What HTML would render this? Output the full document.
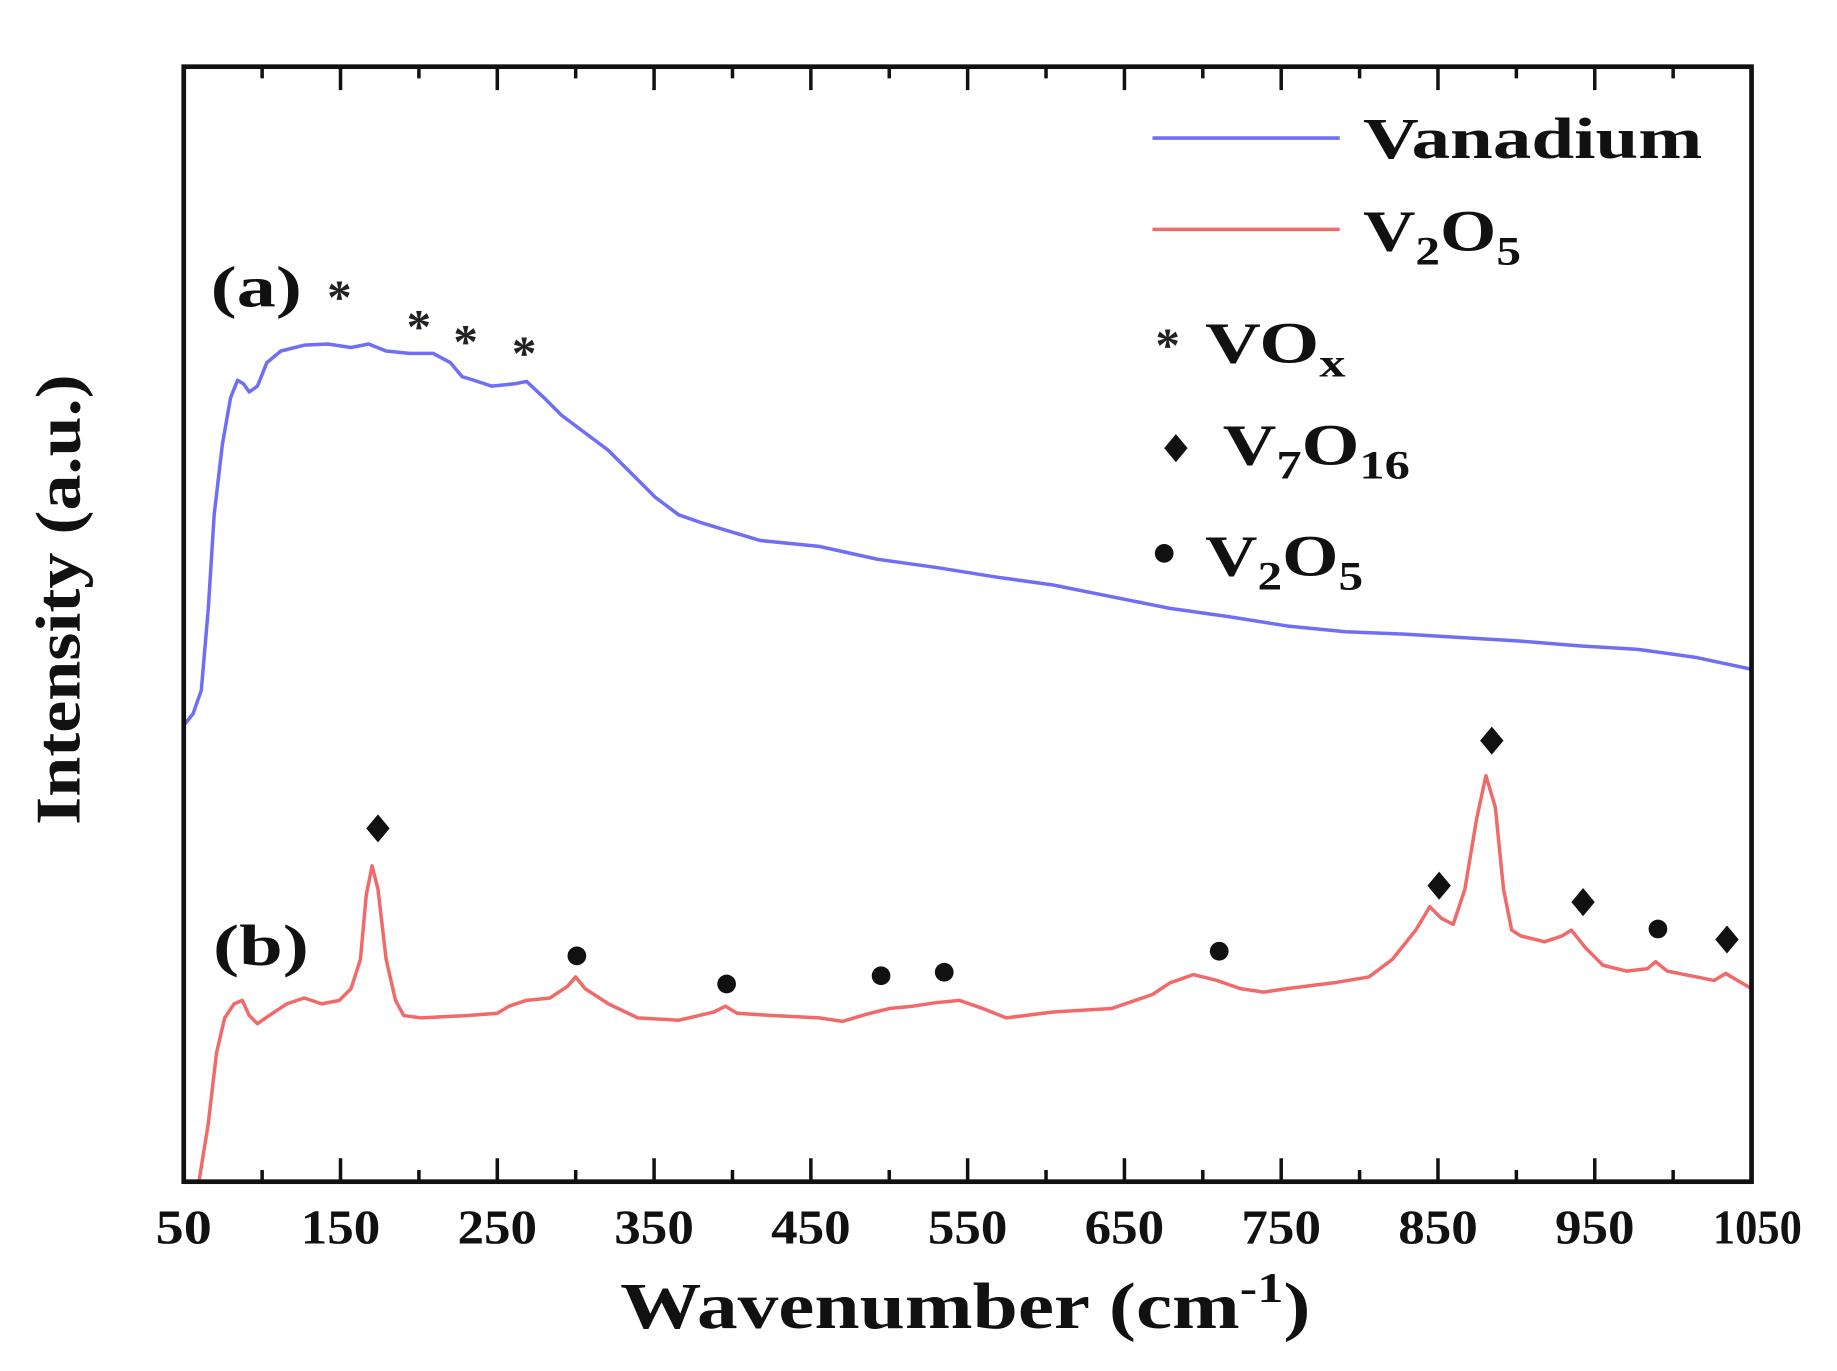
<!DOCTYPE html>
<html><head><meta charset="utf-8"><style>html,body{margin:0;padding:0;background:#fff}svg{display:block}</style></head>
<body>
<svg width="1837" height="1371" viewBox="0 0 1570 1171.8" xmlns="http://www.w3.org/2000/svg" font-family="'Liberation Serif', serif" font-weight="bold">
<rect x="0" y="0" width="1570" height="1172" fill="#fff"/>
<g stroke="#111" stroke-width="3">
<path d="M157,1010v-20M291,1010v-20M425,1010v-20M559,1010v-20M693,1010v-20M827,1010v-20M961,1010v-20M1095,1010v-20M1229,1010v-20M1363,1010v-20M1497,1010v-20"/>
<path d="M224,1010v-10M358,1010v-10M492,1010v-10M626,1010v-10M760,1010v-10M894,1010v-10M1028,1010v-10M1162,1010v-10M1296,1010v-10M1430,1010v-10"/>
<path d="M291,57v20M425,57v20M559,57v20M693,57v20M827,57v20M961,57v20M1095,57v20M1229,57v20M1363,57v20"/>
<path d="M224,57v10M358,57v10M492,57v10M626,57v10M760,57v10M894,57v10M1028,57v10M1162,57v10M1296,57v10M1430,57v10"/>
</g>
<polyline fill="none" stroke="#6f6ff5" stroke-width="3" stroke-linejoin="round" points="157,620 165,610 172,590 178,520 183,440 190,380 197,340 203,325 208,328 213,335 220,330 228,310 240,300 260,295 280,294 300,297 315,294 330,300 350,302 370,302 385,310 395,322 405,325 420,330 440,328 450,326 465,340 480,355 500,370 520,385 540,405 560,425 580,440 600,447 620,453 650,462 700,467 750,478 800,485 850,493 900,500 950,510 1000,520 1050,527 1100,535 1150,540 1200,542 1250,545 1300,548 1350,552 1400,555 1450,562 1497,572"/>
<polyline fill="none" stroke="#f06a6a" stroke-width="3" stroke-linejoin="round" points="170,1010 178,960 185,900 192,870 200,858 207,855 213,868 220,875 230,868 245,858 260,853 275,858 290,855 300,845 308,820 313,765 318,740 323,760 330,820 338,855 345,868 360,870 400,868 425,866 435,860 450,855 470,853 485,843 492,835 500,845 520,858 545,870 580,872 610,865 620,860 630,866 660,868 700,870 720,873 740,867 760,862 780,860 800,857 820,855 840,862 860,870 900,865 950,862 985,850 1000,840 1020,833 1040,838 1060,845 1080,848 1100,845 1140,840 1170,835 1190,820 1210,795 1222,775 1232,785 1242,790 1252,760 1262,700 1270,663 1278,690 1285,760 1292,795 1300,800 1320,805 1335,800 1343,795 1355,810 1370,825 1390,830 1408,828 1415,822 1425,830 1450,835 1465,838 1475,832 1485,838 1497,845"/>
<rect x="157" y="57" width="1340" height="953" fill="none" stroke="#111" stroke-width="4"/>
<g fill="#222" font-size="42" text-anchor="middle">
<text x="290" y="268">*</text><text x="358" y="293">*</text><text x="398" y="306">*</text><text x="448" y="316">*</text>
<text x="998" y="309">*</text>
</g>
<g fill="#111">
<path d="M323,696l10,12l-10,12l-10,-12z"/><path d="M1275,621l10,12l-10,12l-10,-12z"/><path d="M1230,745l10,12l-10,12l-10,-12z"/><path d="M1353,759l10,12l-10,12l-10,-12z"/><path d="M1476,791l10,12l-10,12l-10,-12z"/><path d="M1005,371l10,12l-10,12l-10,-12z"/>
<circle cx="493" cy="817" r="8"/><circle cx="621" cy="841" r="8"/><circle cx="753" cy="834" r="8"/><circle cx="807" cy="831" r="8"/><circle cx="1042" cy="813" r="8"/><circle cx="1417" cy="794" r="8"/><circle cx="995" cy="473" r="8"/>
</g>
<line x1="985" y1="118" x2="1145" y2="118" stroke="#6f6ff5" stroke-width="3"/>
<line x1="985" y1="196" x2="1145" y2="196" stroke="#f06a6a" stroke-width="3"/>
<g fill="#111" font-size="50">
<text x="1165" y="135" textLength="290" lengthAdjust="spacingAndGlyphs">Vanadium</text>
<text x="1165" y="214" textLength="135" lengthAdjust="spacingAndGlyphs">V<tspan font-size="34" dy="12">2</tspan><tspan dy="-12">O</tspan><tspan font-size="34" dy="12">5</tspan></text>
<text x="1030" y="310" textLength="120" lengthAdjust="spacingAndGlyphs">VO<tspan font-size="34" dy="12">x</tspan></text>
<text x="1045" y="397" textLength="160" lengthAdjust="spacingAndGlyphs">V<tspan font-size="34" dy="12">7</tspan><tspan dy="-12">O</tspan><tspan font-size="34" dy="12">16</tspan></text>
<text x="1030" y="492" textLength="135" lengthAdjust="spacingAndGlyphs">V<tspan font-size="34" dy="12">2</tspan><tspan dy="-12">O</tspan><tspan font-size="34" dy="12">5</tspan></text>
<text x="180" y="262" textLength="78" lengthAdjust="spacingAndGlyphs">(a)</text>
<text x="182" y="825" textLength="82" lengthAdjust="spacingAndGlyphs">(b)</text>
</g>
<g fill="#111" font-size="42" text-anchor="middle">
<text x="157" y="1063" textLength="48" lengthAdjust="spacingAndGlyphs">50</text><text x="291" y="1063" textLength="68" lengthAdjust="spacingAndGlyphs">150</text><text x="425" y="1063" textLength="68" lengthAdjust="spacingAndGlyphs">250</text><text x="559" y="1063" textLength="68" lengthAdjust="spacingAndGlyphs">350</text><text x="693" y="1063" textLength="68" lengthAdjust="spacingAndGlyphs">450</text><text x="827" y="1063" textLength="68" lengthAdjust="spacingAndGlyphs">550</text><text x="961" y="1063" textLength="68" lengthAdjust="spacingAndGlyphs">650</text><text x="1095" y="1063" textLength="68" lengthAdjust="spacingAndGlyphs">750</text><text x="1229" y="1063" textLength="68" lengthAdjust="spacingAndGlyphs">850</text><text x="1363" y="1063" textLength="68" lengthAdjust="spacingAndGlyphs">950</text><text x="1502" y="1063" textLength="76" lengthAdjust="spacingAndGlyphs">1050</text>
</g>
<text x="530" y="1135" fill="#111" font-size="56" textLength="590" lengthAdjust="spacingAndGlyphs">Wavenumber (cm<tspan font-size="36" dy="-22">-1</tspan><tspan dy="22">)</tspan></text>
<text transform="translate(68,705) rotate(-90)" fill="#111" font-size="54" textLength="385" lengthAdjust="spacingAndGlyphs">Intensity (a.u.)</text>
</svg>
</body></html>
